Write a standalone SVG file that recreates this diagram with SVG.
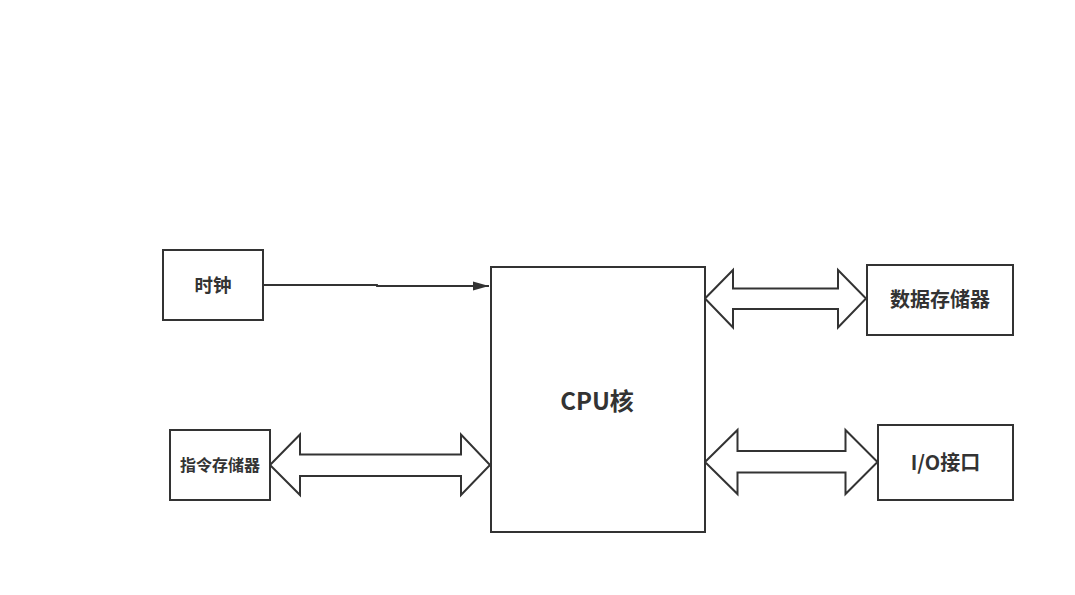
<svg xmlns="http://www.w3.org/2000/svg" width="1075" height="595" viewBox="0 0 1075 595">
<style>
.box{fill:#fff;stroke:#333;stroke-width:2}
.lbl{font-family:"Noto Sans CJK SC","Microsoft YaHei",sans-serif;font-weight:bold;fill:#333;text-anchor:middle;dominant-baseline:central}
.bus{fill:#fff;stroke:#333;stroke-width:2;stroke-linejoin:miter}
.wire{fill:none;stroke:#333;stroke-width:1.8}
</style>
<defs>
<marker id="ah" markerUnits="userSpaceOnUse" markerWidth="16" markerHeight="10" refX="16" refY="5" orient="auto">
<path d="M0,0.5 L16,5 L0,9.5 Z" fill="#333"/>
</marker>
</defs>
<rect width="1075" height="595" fill="#fff"/>
<g id="connectors">
<path class="wire" d="M263,285 H377 V286 H489" marker-end="url(#ah)"/>
<path id="bus-instr" class="bus" d="M270,465 L300,434.5 V454.5 H461 V434.5 L490,465 L461,495 V476 H300 V495 Z"/>
<path id="bus-data" class="bus" d="M705,298.5 L733,270 V288.5 H838 V270 L866,298.5 L838,327.5 V309 H733 V327.5 Z"/>
<path id="bus-io" class="bus" d="M705,462 L737.5,430 V451 H845.5 V430 L877.5,462 L845.5,494 V472.5 H737.5 V494 Z"/>
</g>
<g id="clock">
<rect class="box" x="163" y="250" width="100" height="70"/>
<text class="lbl" x="213" y="284" font-size="18.5">时钟</text>
</g>
<g id="instr-mem">
<rect class="box" x="170" y="430" width="100" height="70"/>
<text class="lbl" x="220" y="464" font-size="16">指令存储器</text>
</g>
<g id="cpu">
<rect class="box" x="491" y="267" width="214" height="265"/>
<text class="lbl" x="597" y="399" font-size="24">CPU核</text>
</g>
<g id="data-mem">
<rect class="box" x="867" y="265" width="146" height="70"/>
<text class="lbl" x="940" y="298" font-size="20">数据存储器</text>
</g>
<g id="io">
<rect class="box" x="878" y="425" width="135" height="75"/>
<text class="lbl" x="945.5" y="461" font-size="20">I/O接口</text>
</g>
</svg>
